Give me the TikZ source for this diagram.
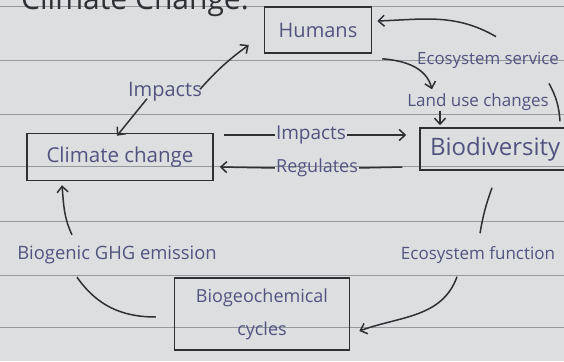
\documentclass[tikz,border=0pt]{standalone}
\usepackage{fontspec}
\setmainfont{Open Sans}
\usetikzlibrary{arrows.meta, positioning, calc}

\definecolor{paper}{RGB}{221,222,224}
\definecolor{ruling}{RGB}{150,153,158}
\definecolor{ink}{RGB}{48,48,52}
\definecolor{blueink}{RGB}{82,84,128}

\begin{document}
\begin{tikzpicture}[
    x=1pt, y=-1pt,
    font=\fontsize{17}{19}\selectfont,
    % --- Pen boxes ---
    box/.style={
        draw=ink,
        line width=1.5pt,
        text=blueink,
        align=center,
        inner sep=0pt
    },
    % --- Handwritten labels ---
    word/.style={
        text=blueink,
        inner sep=1pt
    },
    % --- Pen connectors ---
    pen arrow/.style={
        -{Straight Barb[length=6pt, width=11pt, line width=1.5pt]},
        line width=1.5pt,
        draw=ink
    },
    pen line/.style={
        line width=1.5pt,
        draw=ink
    }
]

    % =========================================
    % PAPER
    % =========================================
    \fill[paper] (0,0) rectangle (564,361);
    \useasboundingbox (0,0) rectangle (564,361);
    \foreach \ry in {6,60,114,166,221,275,327}
        \draw[ruling, line width=0.8pt] (0,\ry) -- (564,\ry);

    % title of the page (cut at the top)
    \node[word, text=ink, anchor=base west, font=\fontsize{30}{32}\selectfont] (title) at (20,10) {Climate Change.};

    % =========================================
    % BOXES
    % =========================================
    \node[box, minimum width=107pt, minimum height=46pt,
          font=\fontsize{20}{22}\selectfont] (humans) at (318,30) {Humans};

    \node[box, minimum width=186pt, minimum height=47pt,
          font=\fontsize{20.5}{22}\selectfont] (climate) at (120,157) {Climate change};

    \node[box, minimum width=170pt, minimum height=42pt,
          font=\fontsize{24}{26}\selectfont,
          text width=150pt, align=left, inner xsep=10pt] (bio) at (505,149) {Biodiversity};

    \node[box, minimum width=175pt, minimum height=72pt,
          font=\fontsize{18}{33}\selectfont] (bgc) at (262,314) {Biogeochemical\\cycles};

    % =========================================
    % LABELS
    % =========================================
    \node[word, font=\fontsize{20}{22}\selectfont] (impUp) at (165,92) {Impacts};
    \node[word, anchor=west, font=\fontsize{16.8}{19}\selectfont] (ess) at (416,60) {Ecosystem service};
    \node[word] (luc) at (478,102) {Land use changes};
    \node[word, font=\fontsize{18.4}{20}\selectfont] (ghg) at (117,255) {Biogenic GHG emission};
    \node[word] (ecf) at (478,255) {Ecosystem function};
    \node[word, font=\fontsize{19}{21}\selectfont] (impMid) at (311,135) {Impacts};
    \node[word, font=\fontsize{18}{20}\selectfont] (regMid) at (317,168) {Regulates};

    % =========================================
    % CONNECTORS
    % =========================================
    \draw[pen arrow] ([xshift=-3pt,yshift=-8pt]impUp.north east) to[bend left=6] ([xshift=-15pt,yshift=-15pt]humans.west);
    \draw[pen arrow] ([xshift=-18pt,yshift=4pt]impUp.south) -- ([xshift=-3pt,yshift=-3pt]climate.north);

    \draw[pen line] ([xshift=10pt,yshift=22pt]climate.east) -- (impMid.west);
    \draw[pen arrow] (impMid.east) -- ([xshift=-13pt,yshift=14pt]bio.west);
    \draw[pen line] ([xshift=-17pt,yshift=-18pt]bio.west) -- (regMid.east);
    \draw[pen arrow] (regMid.west) -- ([xshift=6pt,yshift=-10pt]climate.east);

    \draw[pen arrow] ([xshift=10pt,yshift=-5pt]humans.south east) to[out=-5, in=105] ([xshift=-46pt,yshift=3pt]luc.north);
    \draw[pen arrow] ([xshift=-38pt,yshift=1pt]luc.south) -- ([xshift=-65pt,yshift=2pt]bio.north);
    \draw[pen arrow] ([xshift=80pt,yshift=14pt]ess.north west) to[out=150, in=2] ([xshift=5pt,yshift=9pt]humans.east);
    \draw[pen line] ([xshift=133pt,yshift=-14pt]ess.south west) to[bend left=12] ([xshift=55pt,yshift=6pt]bio.north);

    \draw[pen line] ([xshift=-13pt,yshift=-17pt]bio.south) to[bend right=5] ([xshift=2pt,yshift=12pt]ecf.north);
    \draw[pen arrow] ([xshift=-21pt,yshift=-12pt]ecf.south) to[out=-110, in=20] ([xshift=9pt,yshift=-17pt]bgc.east);
    \draw[pen line] ([xshift=-18pt,yshift=-3pt]bgc.west) to[out=180, in=-55] ([xshift=-40pt,yshift=-12pt]ghg.south);
    \draw[pen arrow] ([xshift=-45pt,yshift=10pt]ghg.north) to[out=115, in=-85] ([xshift=-58pt,yshift=-4pt]climate.south);

\end{tikzpicture}
\end{document}
